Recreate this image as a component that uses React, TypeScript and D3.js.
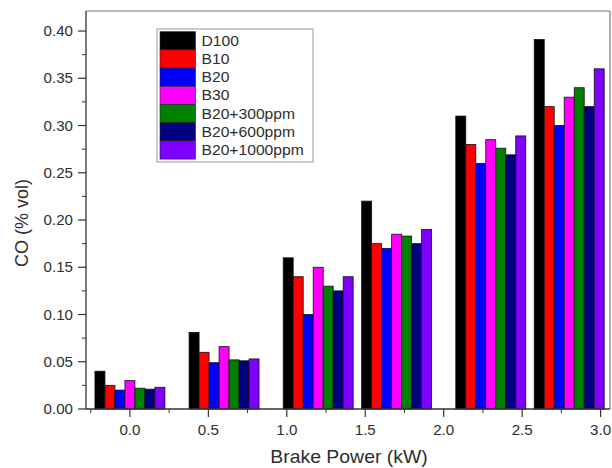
import React from "react";
import * as d3 from "d3";

const powers = [0, 0.6, 1.2, 1.7, 2.3, 2.8];
const seriesNames = ["D100", "B10", "B20", "B30", "B20+300ppm", "B20+600ppm", "B20+1000ppm"];
const seriesColors = ["#000000", "#ff0000", "#0000ff", "#ff00ff", "#008000", "#000080", "#8000ff"];
const d100 = [0.04, 0.081, 0.16, 0.22, 0.31, 0.391];
const b10 = [0.025, 0.06, 0.14, 0.175, 0.28, 0.32];
const b20 = [0.02, 0.049, 0.1, 0.17, 0.26, 0.3];
const b30 = [0.03, 0.066, 0.15, 0.185, 0.285, 0.33];
const b20p300 = [0.022, 0.052, 0.13, 0.183, 0.276, 0.34];
const b20p600 = [0.021, 0.051, 0.125, 0.175, 0.269, 0.32];
const b20p1000 = [0.023, 0.053, 0.14, 0.19, 0.289, 0.36];
const seriesValues = [d100, b10, b20, b30, b20p300, b20p600, b20p1000];
const xTickValues = [0, 0.5, 1, 1.5, 2, 2.5, 3];
const yTickValues = [0, 0.05, 0.1, 0.15, 0.2, 0.25, 0.3, 0.35, 0.4];

const W = 612;
const H = 468;
const L = 86, R = 610, T = 11, B = 409;
const SX = 1.08;
const barW = 0.0637;

export default function App() {
  const x = d3.scaleLinear().domain([-0.28, 3.06]).range([L, R]);
  const y = d3.scaleLinear().domain([0, 0.4212]).range([B, T]);
  const xMinor = d3.range(-0.25, 3.01, 0.5);
  const yMinor = d3.range(0.025, 0.42, 0.05);
  const font = "Arial, 'Liberation Sans', sans-serif";
  const txtColor = "#2e2e2e";

  const bars: React.ReactNode[] = [];
  seriesValues.forEach((vals, si) => {
    vals.forEach((v, gi) => {
      const x0 = x(powers[gi] + (si - 3.5) * barW);
      const x1 = x(powers[gi] + (si - 2.5) * barW);
      bars.push(
        <rect
          key={`b${si}-${gi}`}
          x={x0}
          y={y(v)}
          width={x1 - x0}
          height={y(0) - y(v)}
          fill={seriesColors[si]}
          stroke="#111"
          strokeWidth={0.8}
        />
      );
    });
  });

  const legX = 157, legY = 29, legW = 156, legH = 133;
  const rowH = 18.2;

  return (
    <svg
      width={W}
      height={H}
      style={{ position: "absolute", left: 0, top: 0, background: "#fff" }}
      fontFamily={font}
    >
      <rect x={0} y={0} width={W} height={H} fill="#fff" />
      {/* frame */}
      <line x1={L} y1={T} x2={R} y2={T} stroke="#777" strokeWidth={1.2} />
      <line x1={R} y1={T} x2={R} y2={B} stroke="#777" strokeWidth={1.2} />
      {bars}
      {/* axes */}
      <line x1={L} y1={T} x2={L} y2={B} stroke="#333" strokeWidth={1.3} />
      <line x1={L} y1={B} x2={R} y2={B} stroke="#333" strokeWidth={1.3} />
      {yTickValues.map((t) => (
        <g key={`yt${t}`}>
          <line x1={L - 8} x2={L} y1={y(t)} y2={y(t)} stroke="#333" strokeWidth={1.2} />
          <text
            transform={`translate(${L - 13},${y(t) + 5}) scale(${SX},1)`}
            textAnchor="end"
            fontSize={14}
            fill={txtColor}
          >
            {t.toFixed(2)}
          </text>
        </g>
      ))}
      {yMinor.map((t) => (
        <line key={`ym${t}`} x1={L - 4} x2={L} y1={y(t)} y2={y(t)} stroke="#333" strokeWidth={1} />
      ))}
      {xTickValues.map((t) => (
        <g key={`xt${t}`}>
          <line x1={x(t)} x2={x(t)} y1={B} y2={B + 8} stroke="#333" strokeWidth={1.2} />
          <text
            transform={`translate(${x(t)},${B + 26}) scale(${SX},1)`}
            textAnchor="middle"
            fontSize={14}
            fill={txtColor}
          >
            {t.toFixed(1)}
          </text>
        </g>
      ))}
      {xMinor.map((t) => (
        <line key={`xm${t}`} x1={x(t)} x2={x(t)} y1={B} y2={B + 4} stroke="#333" strokeWidth={1} />
      ))}
      {/* axis titles */}
      <text
        transform={`translate(${349},${463}) scale(${SX},1)`}
        textAnchor="middle"
        fontSize={18}
        fill={txtColor}
      >
        Brake Power (kW)
      </text>
      <text
        transform={`translate(${28},${223}) rotate(-90)`}
        textAnchor="middle"
        fontSize={18}
        fill={txtColor}
      >
        CO (% vol)
      </text>
      {/* legend */}
      <rect x={legX} y={legY} width={legW} height={legH} fill="#fff" stroke="#999" strokeWidth={1} />
      {seriesNames.map((name, i) => (
        <g key={`lg${i}`}>
          <rect
            x={160}
            y={31.7 + i * rowH}
            width={35.5}
            height={rowH}
            fill={seriesColors[i]}
            stroke="#222"
            strokeWidth={0.6}
          />
          <text
            transform={`translate(${201.5},${31.7 + i * rowH + 14}) scale(${SX},1)`}
            fontSize={14.5}
            fill={txtColor}
          >
            {name}
          </text>
        </g>
      ))}
    </svg>
  );
}
